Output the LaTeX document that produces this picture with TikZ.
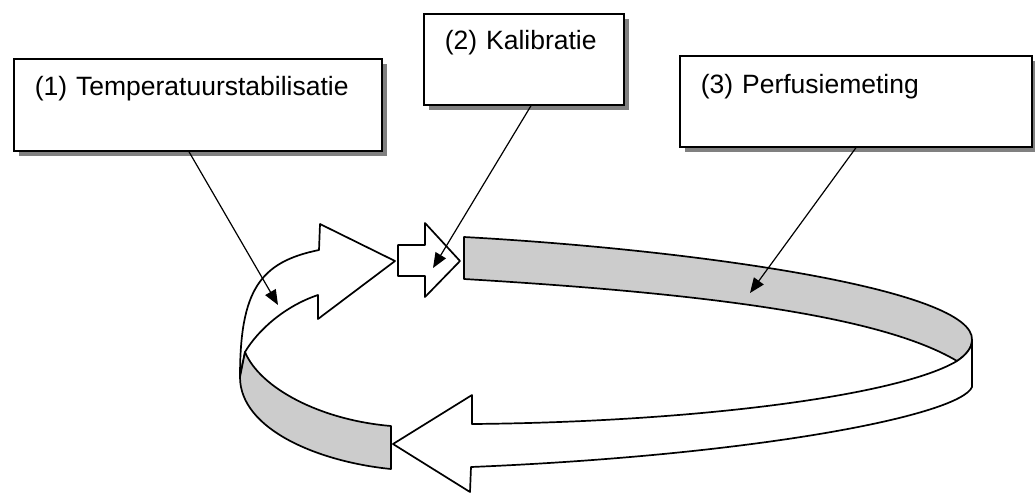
\documentclass[tikz,border=0pt]{standalone}
\usepackage{fontspec}
\setmainfont{Liberation Sans}
\usetikzlibrary{arrows.meta,calc,shadows}
\definecolor{bandgray}{HTML}{CCCCCC}
\definecolor{shadowgray}{HTML}{808080}
\begin{document}
\begin{tikzpicture}[x=1pt,y=-1pt,
  stepbox/.style={draw=black, line width=1.8pt, fill=white, rectangle,
    inner ysep=0pt, inner xsep=21pt, align=left,
    font=\fontsize{26.5}{30}\selectfont,
    general shadow={fill=shadowgray, shadow xshift=5.5pt, shadow yshift=-5pt}},
  band/.style={draw=black, line width=1.7pt, line join=round},
  conn/.style={draw=black, line width=1.2pt, -{Triangle[length=15pt,width=12pt]}}]
\useasboundingbox (0,0) rectangle (1035,493);

% boxes
\node[stepbox, anchor=north west, text width=326pt, text height=37pt, text depth=55pt]
  (b1) at (13,58) {(1) Temperatuurstabilisatie};
\node[stepbox, anchor=north west, text width=158pt, text height=36pt, text depth=55pt]
  (b2) at (423,13) {(2) Kalibratie};
\node[stepbox, anchor=north west, text width=310pt, text height=38pt, text depth=53pt]
  (b3) at (679,55) {(3) Perfusiemeting};

% gray back band (top right)
\path[band, fill=bandgray] (464,237) .. controls (700,250) and (975,290) .. (972,340)
  .. controls (972,348) and (966,355) .. (957,361)
  .. controls (880,315) and (700,293) .. (464,279) -- cycle;

% white front band with arrowhead (bottom)
\path[band, fill=white] (972,340) .. controls (972,348) and (966,355) .. (957,361)
  .. controls (900,395) and (700,422) .. (472,424)
  -- (472,395) -- (393,444) -- (470,492) -- (471,467)
  .. controls (760,455) and (960,415) .. (972,387) -- cycle;

% white curved arrow (left)
\path[band, fill=white] (240,377) .. controls (240,290) and (260,262) .. (319,250)
  -- (320,224) -- (395,261) -- (318,319) -- (318,295)
  .. controls (285,306) and (258,330) .. (245,352) -- cycle;

% gray lower-left band
\path[band, fill=bandgray] (245,352) .. controls (260,388) and (320,420) .. (391,426)
  -- (391,469) .. controls (320,462) and (240,430) .. (240,377) -- cycle;

% small block arrow
\path[band, fill=white] (398,245) -- (425,245) -- (425,223) -- (460,261)
  -- (425,297) -- (425,276) -- (398,276) -- cycle;

% connectors
\coordinate (t1) at (278,305);
\coordinate (t2) at (433,268);
\coordinate (t3) at (750,293);
\draw[conn] ($(b1.south west)!0.476!(b1.south east)$) -- (t1);
\draw[conn] ($(b2.south west)!0.535!(b2.south east)$) -- (t2);
\draw[conn] ($(b3.south west)!0.5!(b3.south east)$) -- (t3);
\end{tikzpicture}
\end{document}
